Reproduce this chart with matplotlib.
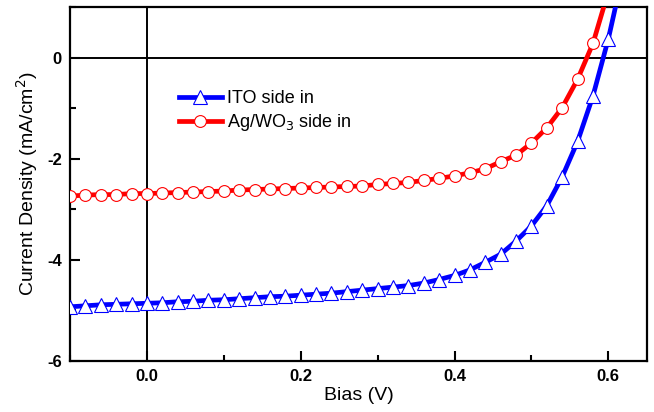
import numpy as np
import matplotlib
matplotlib.use("Agg")
import matplotlib.pyplot as plt
from matplotlib.ticker import MultipleLocator

plt.rcParams["font.family"] = ["Liberation Sans", "DejaVu Sans"]

# bias points (V), markers every 0.02 V
bias_ito = [-0.10, -0.08, -0.06, -0.04, -0.02, 0.00, 0.02, 0.04, 0.06, 0.08,
            0.10, 0.12, 0.14, 0.16, 0.18, 0.20, 0.22, 0.24, 0.26, 0.28,
            0.30, 0.32, 0.34, 0.36, 0.38, 0.40, 0.42, 0.44, 0.46, 0.48,
            0.50, 0.52, 0.54, 0.56, 0.58, 0.60, 0.61]
j_ito = [-4.93, -4.91, -4.89, -4.88, -4.87, -4.86, -4.85, -4.83, -4.82, -4.80,
         -4.79, -4.77, -4.75, -4.73, -4.72, -4.70, -4.68, -4.66, -4.63, -4.60,
         -4.57, -4.54, -4.51, -4.46, -4.39, -4.31, -4.20, -4.05, -3.89, -3.63,
         -3.33, -2.93, -2.36, -1.66, -0.76, 0.37, 1.05]

bias_ag = [-0.10, -0.08, -0.06, -0.04, -0.02, 0.00, 0.02, 0.04, 0.06, 0.08,
           0.10, 0.12, 0.14, 0.16, 0.18, 0.20, 0.22, 0.24, 0.26, 0.28,
           0.30, 0.32, 0.34, 0.36, 0.38, 0.40, 0.42, 0.44, 0.46, 0.48,
           0.50, 0.52, 0.54, 0.56, 0.58, 0.595]
j_ag = [-2.74, -2.72, -2.71, -2.71, -2.69, -2.69, -2.68, -2.67, -2.66, -2.65,
        -2.64, -2.62, -2.61, -2.60, -2.59, -2.58, -2.57, -2.56, -2.55, -2.54,
        -2.51, -2.49, -2.47, -2.43, -2.39, -2.34, -2.28, -2.20, -2.06, -1.93,
        -1.69, -1.39, -0.99, -0.43, 0.28, 1.05]

fig = plt.figure(figsize=(6.54, 4.12), dpi=100)
ax = fig.add_axes([0.107, 0.124, 0.882, 0.859])

ax.axhline(0, color="black", linewidth=1.4, zorder=1)
ax.axvline(0, color="black", linewidth=1.4, zorder=1)

ax.plot(bias_ito, j_ito, color="#0000ff", linewidth=3.4, marker="^",
        markersize=9.5, markerfacecolor="white", markeredgecolor="#0000ff",
        markeredgewidth=0.8, markevery=list(range(len(bias_ito) - 1)),
        label="ITO side in", zorder=3)
ax.plot(bias_ag, j_ag, color="#ff0000", linewidth=3.4, marker="o",
        markersize=8.5, markerfacecolor="white", markeredgecolor="#ff0000",
        markeredgewidth=0.8, markevery=list(range(len(bias_ag) - 1)),
        label="Ag/WO$_3$ side in", zorder=3)

ax.set_xlim(-0.1, 0.65)
ax.set_ylim(-6, 1)
ax.xaxis.set_major_locator(MultipleLocator(0.2))
ax.xaxis.set_minor_locator(MultipleLocator(0.1))
ax.yaxis.set_major_locator(MultipleLocator(2))
ax.yaxis.set_minor_locator(MultipleLocator(1))
ax.xaxis.set_major_formatter(plt.FuncFormatter(lambda v, p: f"{v:.1f}"))
ax.yaxis.set_major_formatter(plt.FuncFormatter(lambda v, p: f"{v:.0f}"))

ax.tick_params(which="both", direction="in", width=1.5, top=False, right=False)
ax.tick_params(which="major", length=7, labelsize=12, pad=6)
ax.tick_params(which="minor", length=4)
for lab in ax.get_xticklabels() + ax.get_yticklabels():
    lab.set_fontweight("bold")
for sp in ax.spines.values():
    sp.set_linewidth(1.6)

ax.set_xlabel("Bias (V)", fontsize=14, labelpad=2)
ax.set_ylabel("Current Density (mA/cm$^2$)", fontsize=14, labelpad=5)

ax.legend(loc="upper left", bbox_to_anchor=(0.176, 0.785), frameon=False,
          fontsize=13, handlelength=2.4, handletextpad=0.3, labelspacing=0.25,
          borderaxespad=0)

fig.savefig("out.png", dpi=100)
